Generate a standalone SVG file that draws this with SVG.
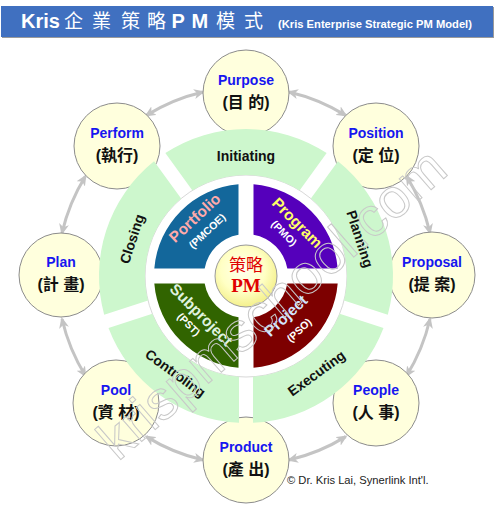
<svg xmlns="http://www.w3.org/2000/svg" width="502" height="508" viewBox="0 0 502 508">
<defs>
<style>
.en{font-family:"Liberation Sans",Arial,sans-serif;font-weight:bold;font-size:14px;fill:#1616f0;text-anchor:middle}
.zh{font-family:"Liberation Sans","Noto Sans CJK TC",sans-serif;font-weight:bold;font-size:16px;fill:#111;text-anchor:middle}
.node{fill:#ffffdd;stroke:#8c8c8c;stroke-width:1}
.arc{fill:none;stroke:#c4c4c4;stroke-width:3;marker-start:url(#ah);marker-end:url(#ah)}
.seg{fill:#cdf7cd}
.ph{font-family:"Liberation Sans",Arial,sans-serif;font-weight:bold;font-size:14px;fill:#111;text-anchor:middle}
.qm{font-family:"Liberation Sans",Arial,sans-serif;font-weight:bold;font-size:15.5px;text-anchor:middle}
.qs{font-family:"Liberation Sans",Arial,sans-serif;font-weight:bold;font-size:10.5px;fill:#fff;text-anchor:middle}
</style>
<marker id="ah" markerUnits="userSpaceOnUse" markerWidth="11" markerHeight="10" viewBox="0 0 11 10" refX="9" refY="5" orient="auto-start-reverse">
<path d="M0,0 L11,5 L0,10 L3,5 Z" fill="#c4c4c4"/>
</marker>
<radialGradient id="cg" cx="0.45" cy="0.4" r="0.6">
<stop offset="0" stop-color="#ffffee"/>
<stop offset="0.6" stop-color="#ffffc4"/>
<stop offset="1" stop-color="#f4f08c"/>
</radialGradient>
<path id="segp" d="M165.35,153.10 A147,147 0 0 1 326.65,153.10 L299.57,190.38 A101,101 0 0 0 192.43,190.38 Z"/>
</defs>
<rect width="502" height="508" fill="#fff"/>

<g id="title">
<rect x="2" y="7" width="492" height="31" fill="#9a9a9a"/>
<rect x="1" y="6" width="492" height="31" fill="#4070c0"/>
<text x="21" y="28" font-family="Liberation Sans,Arial,sans-serif" font-weight="bold" font-size="20" fill="#fff">Kris</text>
<text y="28" x="64 92 121 147 171.5 191.5 216 244" font-family="Noto Sans CJK TC,sans-serif" font-size="19" fill="#fff">企業策略<tspan font-family="Liberation Sans,Arial,sans-serif" font-weight="bold" font-size="20">PM</tspan>模式</text>
<text x="278" y="28" font-family="Liberation Sans,Arial,sans-serif" font-weight="bold" font-size="11.2" fill="#fff">(Kris Enterprise Strategic PM Model)</text>
</g>

<g id="connectors">
<path class="arc" d="M289.0,92.0 A189,189 0 0 1 345.7,115.4"/>
<path class="arc" d="M406.6,176.3 A189,189 0 0 1 430.0,233.0"/>
<path class="arc" d="M430.0,319.0 A189,189 0 0 1 406.6,375.7"/>
<path class="arc" d="M345.7,436.6 A189,189 0 0 1 289.0,460.0"/>
<path class="arc" d="M203.0,460.0 A189,189 0 0 1 146.3,436.6"/>
<path class="arc" d="M85.4,375.7 A189,189 0 0 1 62.0,319.0"/>
<path class="arc" d="M62.0,233.0 A189,189 0 0 1 85.4,176.3"/>
<path class="arc" d="M146.3,115.4 A189,189 0 0 1 203.0,92.0"/>
</g>

<g id="purpose"><circle class="node" cx="246" cy="93" r="43"/><text class="en" x="246" y="85">Purpose</text><text class="zh" x="246" y="108">(目 的)</text></g>
<g id="position"><circle class="node" cx="376" cy="146" r="43"/><text class="en" x="376" y="138">Position</text><text class="zh" x="376" y="161">(定 位)</text></g>
<g id="proposal"><circle class="node" cx="432" cy="275" r="43"/><text class="en" x="432" y="267">Proposal</text><text class="zh" x="432" y="290">(提 案)</text></g>
<g id="people"><circle class="node" cx="376" cy="403" r="43"/><text class="en" x="376" y="395">People</text><text class="zh" x="376" y="418">(人 事)</text></g>
<g id="product"><circle class="node" cx="246" cy="460" r="43"/><text class="en" x="246" y="452">Product</text><text class="zh" x="246" y="475">(產 出)</text></g>
<g id="pool"><circle class="node" cx="116" cy="403" r="43"/><text class="en" x="116" y="395">Pool</text><text class="zh" x="116" y="418">(資 材)</text></g>
<g id="plan"><circle class="node" cx="61" cy="275" r="42"/><text class="en" x="61" y="267">Plan</text><text class="zh" x="61" y="290">(計 畫)</text></g>
<g id="perform"><circle class="node" cx="117" cy="146" r="43"/><text class="en" x="117" y="138">Perform</text><text class="zh" x="117" y="161">(執行)</text></g>

<g id="phases">
<circle cx="246" cy="276" r="101" fill="#fff" stroke="#d8d8d8" stroke-width="1"/>
<g id="initiating"><use href="#segp" class="seg"/><text class="ph" transform="translate(246,156)" y="5">Initiating</text></g>
<g id="planning"><use href="#segp" class="seg" transform="rotate(72 246 276)"/><text class="ph" transform="translate(360.1,238.9) rotate(72)" y="5">Planning</text></g>
<g id="executing"><use href="#segp" class="seg" transform="rotate(144 246 276)"/><text class="ph" transform="translate(316.5,373.1) rotate(-36)" y="5">Executing</text></g>
<g id="controling"><use href="#segp" class="seg" transform="rotate(216 246 276)"/><text class="ph" transform="translate(175.5,373.1) rotate(36)" y="5">Controling</text></g>
<g id="closing"><use href="#segp" class="seg" transform="rotate(288 246 276)"/><text class="ph" transform="translate(131.9,238.9) rotate(-72)" y="5">Closing</text></g>
</g>

<g id="quadrants">
<g id="portfolio"><path d="M154.31,268.5 A92,92 0 0 1 238.5,184.31 L238.5,234.67 A42,42 0 0 0 204.67,268.5 Z" fill="#13679b"/>
<g transform="translate(195,218) rotate(-43)"><text class="qm" y="5" fill="#ffaaaa">Portfolio</text><text class="qs" y="21.5">(PMCOE)</text></g></g>
<g id="program"><path d="M253.5,184.31 A92,92 0 0 1 337.69,268.5 L287.33,268.5 A42,42 0 0 0 253.5,234.67 Z" fill="#5500bb"/>
<g transform="translate(297,223) rotate(45)"><text class="qm" y="5" font-size="16.5" fill="#ffff66">Program</text><text class="qs" x="-2" y="20">(PMO)</text></g></g>
<g id="project"><path d="M337.69,283.5 A92,92 0 0 1 253.5,367.69 L253.5,317.33 A42,42 0 0 0 287.33,283.5 Z" fill="#7d0000"/>
<g transform="translate(286,316) rotate(-43)"><text class="qm" y="5" font-size="16.5" fill="#d4e6ff">Project</text><text class="qs" y="23">(PSO)</text></g></g>
<g id="subproject"><path d="M238.5,367.69 A92,92 0 0 1 154.31,283.5 L204.67,283.5 A42,42 0 0 0 238.5,317.33 Z" fill="#316400"/>
<g transform="translate(201,315) rotate(45)"><text class="qm" y="5" font-size="15" fill="#dff2df">Subproject</text><text class="qs" x="-2" y="19">(PST)</text></g></g>
</g>

<g id="center">
<circle cx="246" cy="276" r="31" fill="url(#cg)" stroke="#9a9a9a" stroke-width="1"/>
<text x="246" y="271" text-anchor="middle" font-family="Noto Sans CJK TC,sans-serif" font-size="17" fill="#e00000">策略</text>
<text x="246" y="292" text-anchor="middle" font-family="Liberation Serif,serif" font-weight="bold" font-size="19" fill="#e00000">PM</text>
</g>

<g id="watermark">
<text transform="translate(118,462) rotate(-41)" font-family="Liberation Sans,Arial,sans-serif" font-size="55" fill="none" stroke="#c8c8c8" stroke-width="1">krispmschool.com</text>
</g>

<text x="287" y="484" font-family="Liberation Sans,Arial,sans-serif" font-size="11.2" fill="#222">© Dr. Kris Lai, Synerlink Int'l.</text>
</svg>
